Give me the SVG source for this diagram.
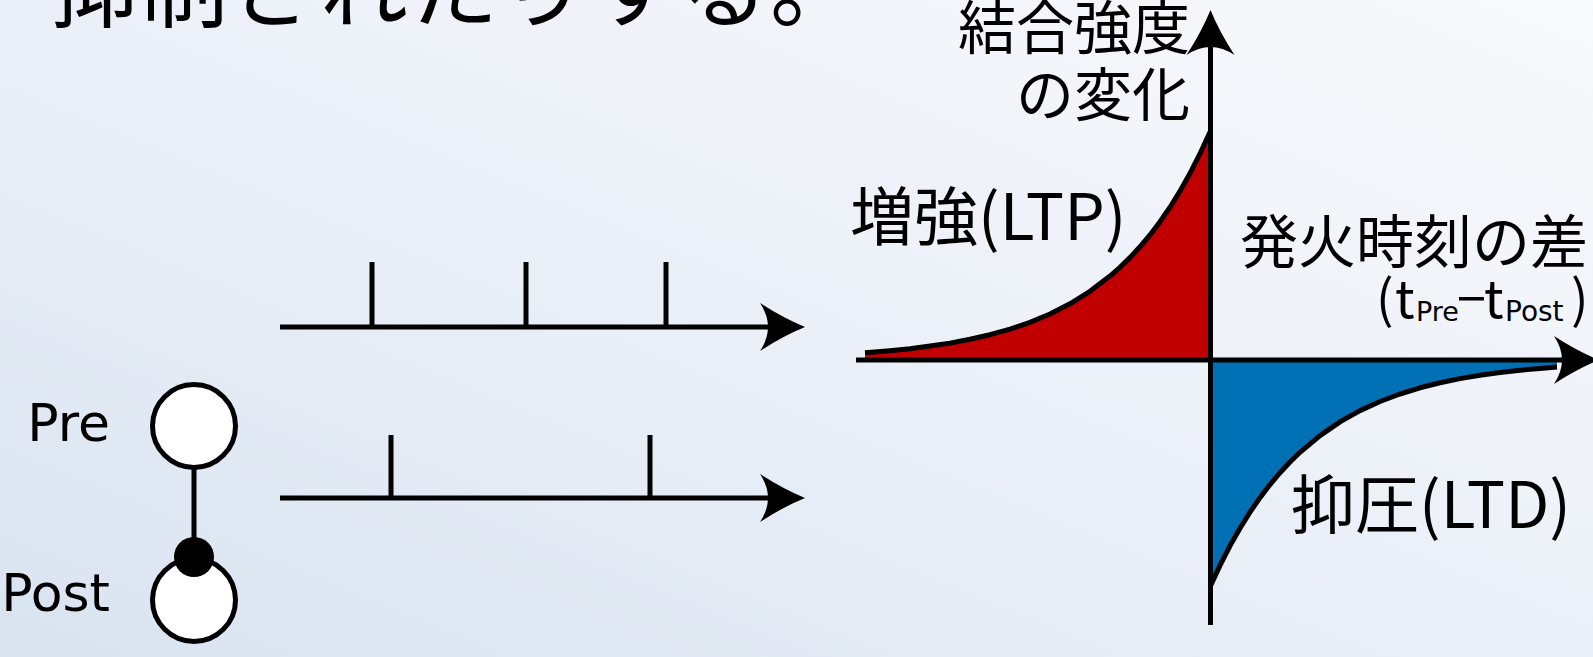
<svg xmlns="http://www.w3.org/2000/svg" width="1593" height="657" viewBox="0 0 1593 657">
<defs>
<linearGradient id="bg" x1="0" y1="1" x2="1" y2="0">
<stop offset="0" stop-color="#d9e3f0"/>
<stop offset="0.5" stop-color="#ebf0f8"/>
<stop offset="1" stop-color="#f8f9fb"/>
</linearGradient>
<marker id="arrow" markerUnits="userSpaceOnUse" viewBox="-47 -26 49 52" markerWidth="49" markerHeight="52" refX="-35" refY="0" orient="auto">
<path d="M0,0 Q-22,-9 -45,-24 Q-37,-12 -37,0 Q-37,12 -45,24 Q-22,9 0,0Z" fill="#000"/>
</marker>
<style>
.jp{font-family:"Noto Sans CJK JP","Noto Sans",sans-serif;fill:#000}
.lat{font-family:"DejaVu Sans","Noto Sans",sans-serif;fill:#000}
.ln{stroke:#000;stroke-width:5;fill:none}
.curve{stroke:#000;stroke-width:5;fill:none;stroke-linejoin:round}
.circ{fill:#fff;stroke:#000;stroke-width:5}
</style>
</defs>
<rect x="0" y="0" width="1593" height="657" fill="url(#bg)"/>

<g id="title">
<text class="jp" x="50" y="20" font-size="88" letter-spacing="2">抑制されたりする。</text>
</g>

<g id="pre-neuron">
<circle class="circ" cx="194" cy="426" r="41.5"/>
<text class="lat" x="110" y="441" font-size="52" text-anchor="end">Pre</text>
</g>
<g id="post-neuron">
<circle class="circ" cx="194" cy="600" r="41.5"/>
<circle cx="194" cy="557" r="20" fill="#000"/>
<text class="lat" x="110" y="611" font-size="52" text-anchor="end">Post</text>
</g>

<g id="pre-spike-train">
<line class="ln" x1="372" y1="262" x2="372" y2="327"/>
<line class="ln" x1="526" y1="262" x2="526" y2="327"/>
<line class="ln" x1="666" y1="262" x2="666" y2="327"/>
</g>
<g id="post-spike-train">
<line class="ln" x1="391" y1="435" x2="391" y2="498"/>
<line class="ln" x1="650" y1="435" x2="650" y2="498"/>
</g>

<g id="ltp-region">
<path fill="#c00000" d="M865,352.8 L890,350.7 L910,348.7 L930,346.1 L950,343.1 L970,339.3 L990,334.7 L1010,329.1 L1030,322.3 L1050,314 L1070,303.8 L1090,291.3 L1110,276.1 L1120,267.3 L1130,257.6 L1140,246.8 L1150,234.9 L1160,221.7 L1170,207.2 L1180,191.1 L1190,173.3 L1200,153.7 L1210,132 L1210,360 L865,360 Z"/>
<path class="curve" d="M865,352.8 L890,350.7 L910,348.7 L930,346.1 L950,343.1 L970,339.3 L990,334.7 L1010,329.1 L1030,322.3 L1050,314 L1070,303.8 L1090,291.3 L1110,276.1 L1120,267.3 L1130,257.6 L1140,246.8 L1150,234.9 L1160,221.7 L1170,207.2 L1180,191.1 L1190,173.3 L1200,153.7 L1210,132"/>
<text class="jp" x="850" y="240" font-size="64">増強(LTP)</text>
</g>

<g id="ltd-region">
<path fill="#0070b4" d="M1210,587 L1220,565.4 L1230,545.8 L1240,528.2 L1250,512.2 L1260,497.7 L1270,484.6 L1280,472.7 L1290,462 L1300,452.3 L1320,435.6 L1340,421.9 L1360,410.6 L1380,401.5 L1400,394 L1420,387.8 L1440,382.8 L1460,378.6 L1480,375.3 L1500,372.5 L1520,370.2 L1540,368.4 L1557,367.1 L1557,360 L1210,360 Z"/>
<path class="curve" d="M1210,587 L1220,565.4 L1230,545.8 L1240,528.2 L1250,512.2 L1260,497.7 L1270,484.6 L1280,472.7 L1290,462 L1300,452.3 L1320,435.6 L1340,421.9 L1360,410.6 L1380,401.5 L1400,394 L1420,387.8 L1440,382.8 L1460,378.6 L1480,375.3 L1500,372.5 L1520,370.2 L1540,368.4 L1557,367.1"/>
<text class="jp" x="1291" y="528" font-size="64">抑圧(LTD)</text>
</g>

<g id="axis-labels">
<text class="jp" x="1190" y="49" font-size="58" text-anchor="end">結合強度</text>
<text class="jp" x="1190" y="116" font-size="58" text-anchor="end">の変化</text>
<text class="jp" x="1240" y="263" font-size="58">発火時刻の差</text>
<text class="jp" font-size="52"><tspan x="1376" y="318">(</tspan><tspan x="1395" y="318">t</tspan><tspan class="lat" x="1416" y="321" font-size="27">Pre</tspan><tspan x="1457" y="318">−</tspan><tspan x="1484" y="318">t</tspan><tspan class="lat" x="1505" y="321" font-size="28">Post</tspan><tspan x="1571" y="318">)</tspan></text>
</g>

<g id="connectors">
<line class="ln" x1="194" y1="468" x2="194" y2="545"/>
<line class="ln" x1="280" y1="327" x2="770" y2="327" marker-end="url(#arrow)"/>
<line class="ln" x1="280" y1="498" x2="770" y2="498" marker-end="url(#arrow)"/>
<line class="ln" x1="856" y1="360" x2="1564" y2="360" marker-end="url(#arrow)"/>
<line class="ln" x1="1210.5" y1="625" x2="1210.5" y2="45" marker-end="url(#arrow)"/>
</g>
</svg>
